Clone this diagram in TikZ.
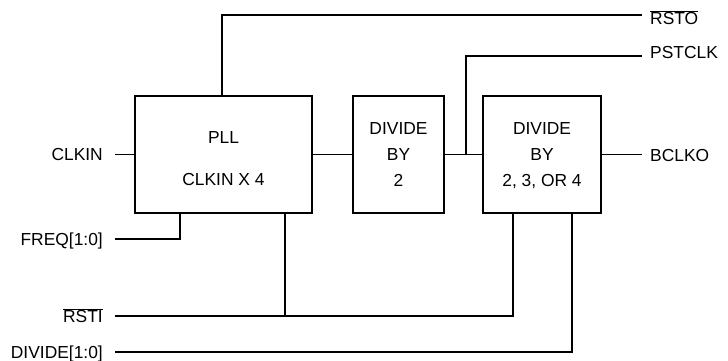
\documentclass[tikz,border=0pt]{standalone}
\usepackage{fontspec}
\setmainfont{Liberation Sans}
\newcommand{\ovl}[1]{$\overline{\mbox{#1}}$}
\begin{document}
\begin{tikzpicture}[x=1pt,y=-1pt,
  wire/.style={line width=1.1pt},
  blk/.style={draw,line width=1.1pt,minimum height=117pt,inner sep=0pt,align=center},
  lbl/.style={inner sep=0pt,font=\fontsize{17.4}{20}\selectfont},
  txt/.style={inner sep=0pt,font=\fontsize{17.4}{20}\selectfont,anchor=base}]
\useasboundingbox (0,0) rectangle (728,361);
% blocks
\node[blk,minimum width=177pt] (pll) at (223.5,154.5) {};
\node[blk,minimum width=91pt] (d2) at (398.5,154.5) {};
\node[blk,minimum width=118pt] (d4) at (542,154.5) {};
% block texts
\node[txt] (t1) at (223.5,143) {PLL};
\node[txt] (t2) at (223.5,185) {CLKIN X 4};
\node[txt] (t3) at (398.5,134) {DIVIDE};
\node[txt] (t4) at (398.5,160) {BY};
\node[txt] (t5) at (398.5,186) {2};
\node[txt] (t6) at (542,134) {DIVIDE};
\node[txt] (t7) at (542,160) {BY};
\node[txt] (t8) at (542,186) {2, 3, OR 4};
% left labels
\node[lbl,anchor=base east] (clkin) at (103,160.5) {CLKIN};
\node[lbl,anchor=base east] (freq) at (103,245.5) {FREQ[1:0]};
\node[lbl,anchor=base east] (rsti) at (103,322.5) {\ovl{RSTI}};
\node[lbl,anchor=base east] (divide) at (103,358) {DIVIDE[1:0]};
% right labels
\node[lbl,anchor=base west] (rsto) at (650,25) {\ovl{RSTO}};
\node[lbl,anchor=base west] (pstclk) at (650,58.5) {PSTCLK};
\node[lbl,anchor=base west] (bclko) at (650,161.5) {BCLKO};
% wire end coordinates
\coordinate (cA) at (115,154.5);
\coordinate (fA) at (115,239);
\coordinate (rA) at (115,316);
\coordinate (dA) at (115,352);
\coordinate (oE) at (642,15);
\coordinate (pE) at (642,56);
\coordinate (bE) at (642,154.5);
\coordinate (top) at (222,15);
\coordinate (br) at (466,154.5);
\coordinate (fx) at (180,0);
\coordinate (rx) at (285,316);
\coordinate (rx2) at (513,0);
\coordinate (dx) at (572,0);
% wires
\draw[wire] (cA) -- (pll.west);
\draw[wire] (pll.east) -- (d2.west);
\draw[wire] (d2.east) -- (d4.west);
\draw[wire] (d4.east) -- (bE);
\draw[wire] (pll.north -| top) -- (top) -- (oE);
\draw[wire] (br) |- (pE);
\draw[wire] (fA) -| (pll.south -| fx);
\draw[wire] (rA) -| (d4.south -| rx2);
\draw[wire] (pll.south -| rx) -- (rx);
\draw[wire] (dA) -| (d4.south -| dx);
\end{tikzpicture}
\end{document}
